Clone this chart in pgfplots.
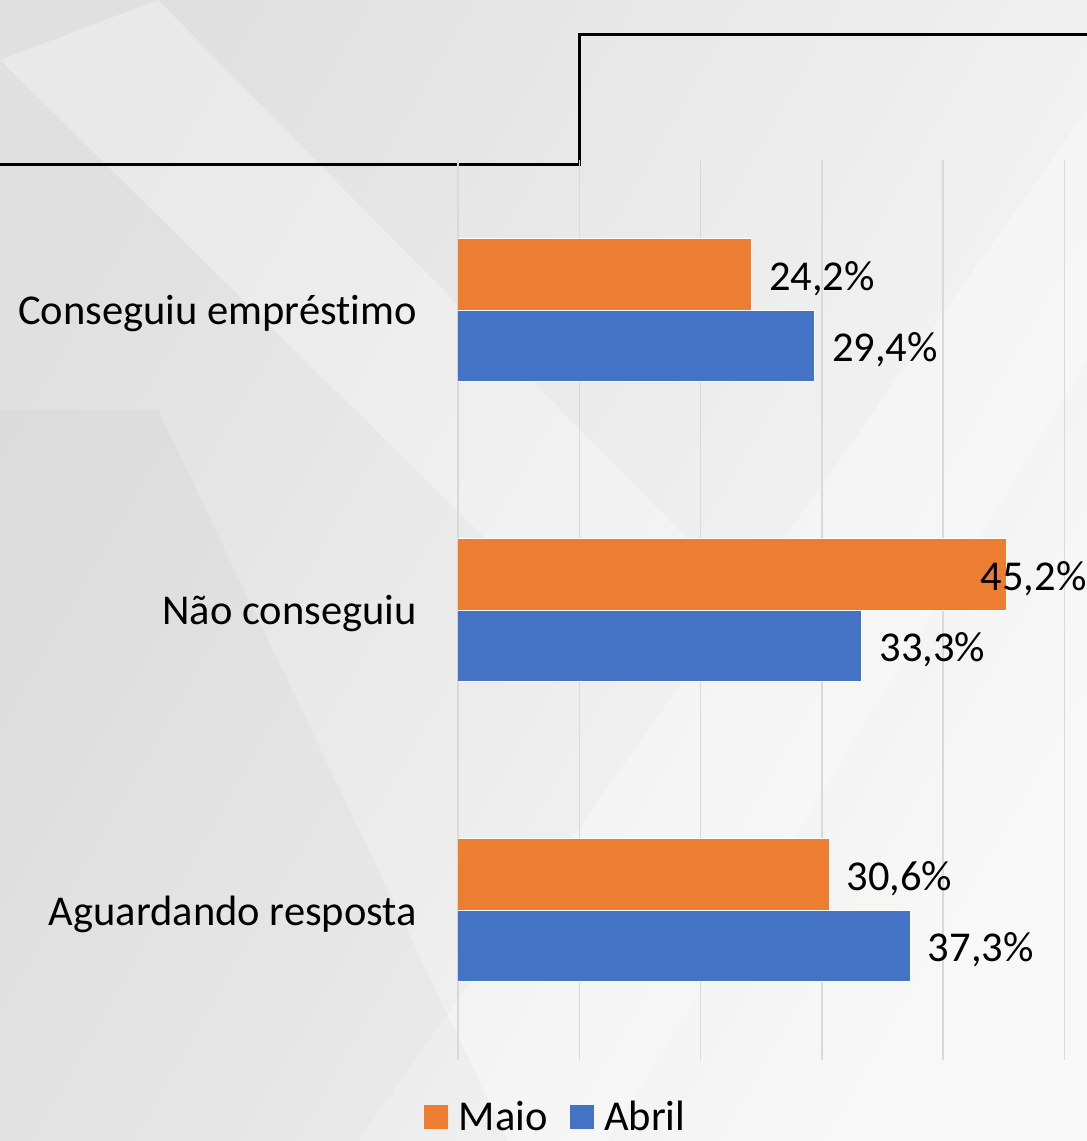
\documentclass[border=0pt]{standalone}
\usepackage{fontspec}
\setmainfont{Carlito}[Ligatures=NoCommon]
\usepackage{pgfplots}
\usepackage{pgfplotstable}
\pgfplotsset{compat=1.18}

\definecolor{maio}{HTML}{ED7D31}
\definecolor{abril}{HTML}{4472C4}
\definecolor{gridc}{HTML}{D9D9D9}
\definecolor{bgdark}{HTML}{E0E0E0}
\definecolor{bglight}{HTML}{F8F8F8}

% cat: 0 = Conseguiu, 1 = Nao conseguiu, 2 = Aguardando; dx = label shift (pt)
\pgfplotstableread{
cat val dx
0 24.2 17
1 45.2 -26
2 30.6 17
}\maio
\pgfplotstableread{
cat val dx
0 29.4 17
1 33.3 17
2 37.3 17
}\abril

\newcommand{\chartfont}{\fontsize{42.5}{50}\selectfont}

\begin{document}
\begin{tikzpicture}
% background (1 px = 1 pt, axis box from x=0..629, y=0..900)
\useasboundingbox (-458pt,-81pt) rectangle (629pt,1060pt);
\begin{scope}
\clip (-458pt,-81pt) rectangle (629pt,1060pt);
\shade[shading=axis, left color=bgdark, right color=bglight, shading angle=60] (-458pt,-81pt) rectangle (629pt,1060pt);
\fill[white, opacity=0.3] (-458pt,1000pt) -- (-300pt,1060pt) -- (250pt,500pt) -- (100pt,450pt) -- cycle;
\fill[white, opacity=0.3] (-100pt,-81pt) -- (150pt,-81pt) -- (629pt,700pt) -- (629pt,950pt) -- cycle;
\fill[gray, opacity=0.05] (-458pt,650pt) -- (-300pt,650pt) -- (50pt,-81pt) -- (-458pt,-81pt) -- cycle;
\end{scope}
\draw[black, line width=3pt] (-458pt,895pt) -- (121pt,895pt) -- (121pt,1025pt) -- (629pt,1025pt);

\begin{axis}[
  at={(0pt,0pt)}, anchor=south west,
  scale only axis,
  width=629pt, height=900pt,
  xbar,
  bar width=0.237,
  y dir=reverse,
  xmin=0, xmax=51.85,
  ymin=-0.5, ymax=2.5,
  xtick={0,10,20,30,40,50},
  xticklabels=\empty,
  ytick={0,1,2},
  yticklabels={Conseguiu empréstimo, Não conseguiu, Aguardando resposta},
  yticklabel style={font=\chartfont, inner sep=0pt, xshift=-41pt, yshift=-4pt},
  major tick length=0pt,
  axis line style={draw=none},
  xmajorgrids,
  grid style={gridc, line width=1.5pt},
  point meta=x,
  /pgf/number format/assume math mode=true,
  nodes near coords={\pgfmathprintnumber[fixed, fixed zerofill, precision=1, use comma]{\pgfplotspointmeta}\%},
  nodes near coords align={horizontal},
  visualization depends on={\thisrow{dx} \as \labdx},
  every node near coord/.append style={font=\chartfont, inner sep=0pt, anchor=west, xshift=\labdx pt, yshift=-4pt, text=black},
  legend columns=2,
  legend style={draw=none, fill=none, font=\chartfont,
    at={(0.154,-0.063)}, anchor=center,
    /tikz/every even column/.append style={column sep=22pt},
    nodes={inner xsep=0pt, inner ysep=0pt}},
  legend image code/.code={\fill[#1, draw=none] (0pt,-12pt) rectangle (24pt,12pt); \path (34pt,0pt);},
]
\addplot[fill=maio, draw=white, line width=1pt, bar shift=-0.1185] table[x=val, y=cat] {\maio};
\addplot[fill=abril, draw=white, line width=1pt, bar shift=0.1185] table[x=val, y=cat] {\abril};
\legend{Maio, Abril}
\end{axis}
\end{tikzpicture}
\end{document}
